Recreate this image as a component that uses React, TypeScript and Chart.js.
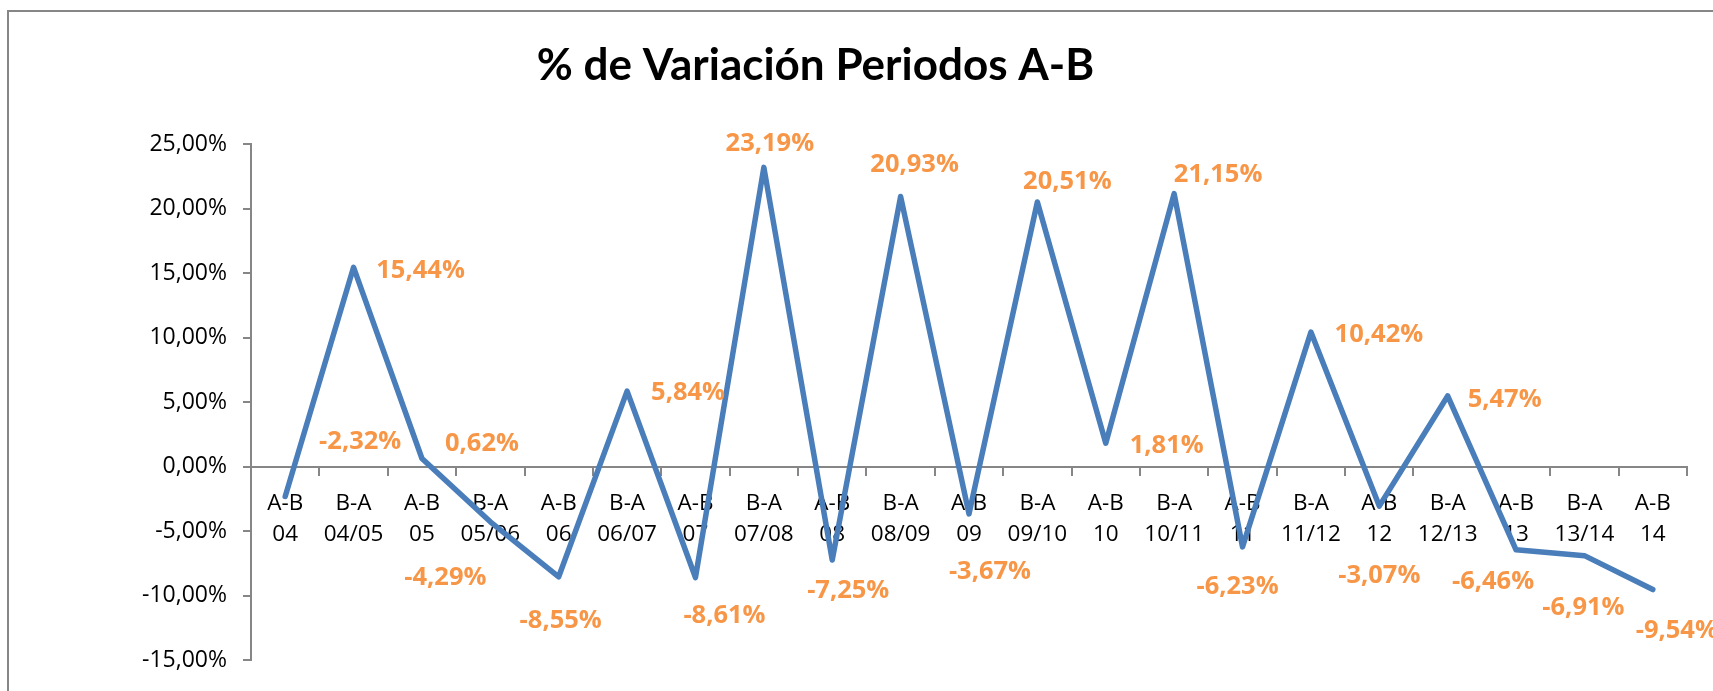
import React, { useEffect, useRef } from 'react';
import { Chart, registerables } from 'chart.js';

Chart.register(...registerables);

const chartTitle = '% de Variación Periodos A-B';
const periodTypes = ['A-B', 'B-A', 'A-B', 'B-A', 'A-B', 'B-A', 'A-B', 'B-A', 'A-B', 'B-A', 'A-B', 'B-A', 'A-B', 'B-A', 'A-B', 'B-A', 'A-B', 'B-A', 'A-B', 'B-A', 'A-B'];
const periodYears = ['04', '04/05', '05', '05/06', '06', '06/07', '07', '07/08', '08', '08/09', '09', '09/10', '10', '10/11', '11', '11/12', '12', '12/13', '13', '13/14', '14'];
const variation = [-2.32, 15.44, 0.62, -4.29, -8.55, 5.84, -8.61, 23.19, -7.25, 20.93, -3.67, 20.51, 1.81, 21.15, -6.23, 10.42, -3.07, 5.47, -6.46, -6.91, -9.54];
const yTicks = [-15, -10, -5, 0, 5, 10, 15, 20, 25];

// label placement (pixel offsets of each data label from its point)
const labelOffsets: [number, number][] = [
  [75, -57], [67, 2], [60, -17], [-45, 54], [2, 42], [61, 0], [29, 36], [6, -25], [16, 29], [14, -34],
  [21, 56], [30, -22], [61, 1], [44, -21], [-5, 38], [68, 1], [0, 68], [57, 2], [-23, 30], [-1, 50], [24, 39],
];

const fmt = (v: number) => v.toFixed(2).replace('.', ',') + '%';

const FONT = '"Open Sans", "Noto Sans", sans-serif';
const TITLE_FONT = 'Lato, "Open Sans", sans-serif';
const AXIS_GRAY = '#868686';

const framePlugin = {
  id: 'frame',
  beforeDraw(chart: any) {
    const ctx = chart.ctx;
    ctx.save();
    ctx.fillStyle = '#ffffff';
    ctx.fillRect(0, 0, chart.width, chart.height);
    ctx.strokeStyle = AXIS_GRAY;
    ctx.lineWidth = 2;
    ctx.strokeRect(8, 11, 3000, 3000);
    ctx.restore();
  },
};

const titlePlugin = {
  id: 'excelTitle',
  afterDraw(chart: any) {
    const ctx = chart.ctx;
    ctx.save();
    ctx.font = `bold 44px ${TITLE_FONT}`;
    ctx.fillStyle = '#000000';
    ctx.textAlign = 'center';
    ctx.textBaseline = 'alphabetic';
    ctx.fillText(chartTitle, 815.5, 79.8);
    ctx.restore();
  },
};

const dataLabelPlugin = {
  id: 'dataLabels',
  afterDatasetsDraw(chart: any) {
    const ctx = chart.ctx;
    const meta = chart.getDatasetMeta(0);
    ctx.save();
    ctx.font = `bold 25.5px ${FONT}`;
    ctx.fillStyle = '#F79646';
    ctx.textAlign = 'center';
    ctx.textBaseline = 'alphabetic';
    meta.data.forEach((pt: any, i: number) => {
      const [dx, dy] = labelOffsets[i] || [0, 0];
      ctx.fillText(fmt(variation[i]), pt.x + dx, pt.y + dy + 9.1);
    });
    ctx.restore();
  },
};

export default function App() {
  const canvasRef = useRef<HTMLCanvasElement | null>(null);

  useEffect(() => {
    if (!canvasRef.current) return;
    const labels = periodTypes.map((t, i) => [t, periodYears[i]]);
    const chart = new Chart(canvasRef.current, {
      type: 'line',
      data: {
        labels,
        datasets: [
          {
            data: variation,
            borderColor: '#4A7EBB',
            backgroundColor: '#4A7EBB',
            borderWidth: 5.5,
            pointRadius: 0,
            pointHoverRadius: 0,
            tension: 0,
            borderJoinStyle: 'round',
            borderCapStyle: 'round',
            fill: false,
          },
        ],
      },
      options: {
        animation: false,
        responsive: false,
        devicePixelRatio: 1,
        events: [],
        layout: { padding: { top: 144, bottom: 31, left: 0, right: 26 } },
        plugins: {
          legend: { display: false },
          title: { display: false },
          tooltip: { enabled: false },
        },
        scales: {
          x: {
            type: 'category',
            position: { y: 0 } as any,
            offset: true,
            grid: {
              drawOnChartArea: false,
              drawTicks: true,
              tickLength: 8,
              color: AXIS_GRAY,
              lineWidth: 2,
              offset: true,
            },
            border: { display: true, color: AXIS_GRAY, width: 2 },
            ticks: {
              color: '#000000',
              font: { family: FONT, size: 22.5, lineHeight: 1.378 },
              padding: 14,
              maxRotation: 0,
              minRotation: 0,
              autoSkip: false,
            },
          },
          y: {
            min: -15,
            max: 25,
            afterBuildTicks: (scale: any) => {
              scale.ticks = yTicks.map((v) => ({ value: v }));
            },
            afterFit: (scale: any) => {
              scale.width = 251;
            },
            grid: {
              drawOnChartArea: false,
              drawTicks: true,
              tickLength: 8,
              color: AXIS_GRAY,
              lineWidth: 2,
            },
            border: { display: true, color: AXIS_GRAY, width: 2 },
            ticks: {
              color: '#000000',
              font: { family: FONT, size: 23 },
              padding: 16,
              callback: (v: any) => fmt(Number(v)),
            },
          },
        },
      },
      plugins: [framePlugin, titlePlugin, dataLabelPlugin],
    });
    return () => chart.destroy();
  }, []);

  return (
    <div style={{ position: 'fixed', left: 0, top: 0, width: 1713, height: 691, background: '#fff' }}>
      <canvas ref={canvasRef} width={1713} height={691} style={{ display: 'block' }} />
    </div>
  );
}
